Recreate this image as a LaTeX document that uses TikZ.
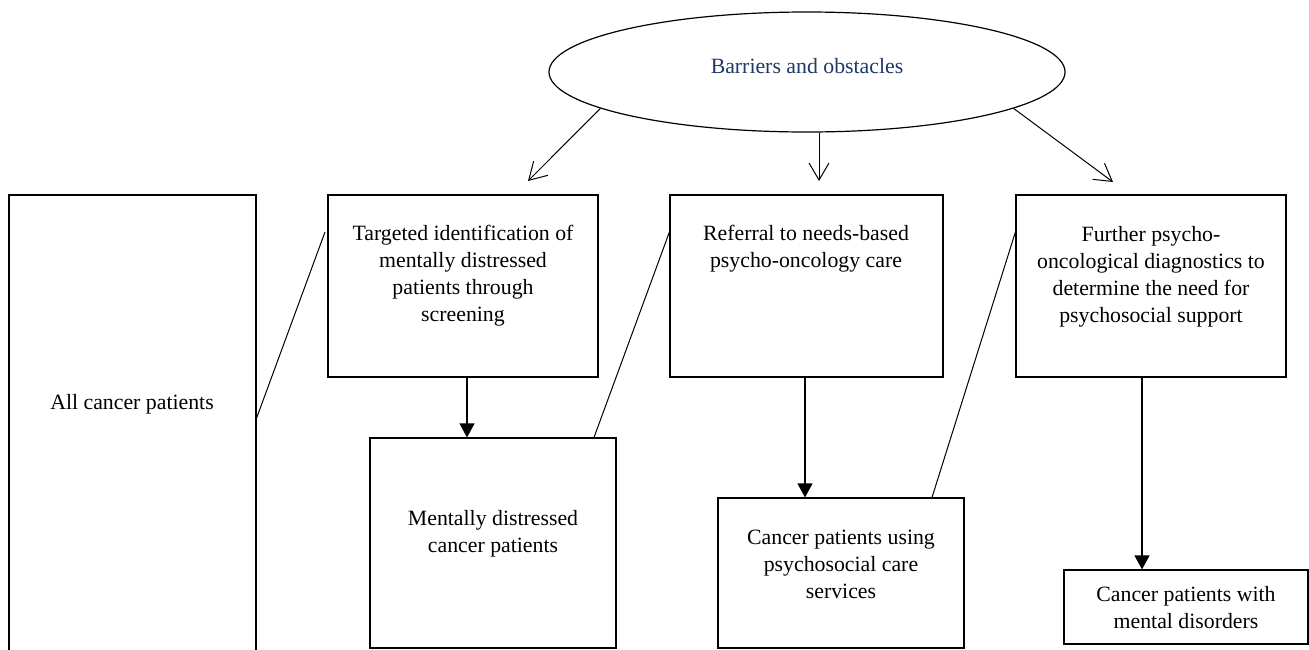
\documentclass[tikz,border=0pt]{standalone}
\usepackage{fontspec}
\setmainfont{Liberation Serif}
\usetikzlibrary{shapes.geometric,arrows.meta,positioning,calc,fit}
\usepackage{xcolor}
\definecolor{barrierblue}{RGB}{31,56,100}

\begin{document}
\begin{tikzpicture}[
    x=0.5pt, y=0.5pt,
    font=\fontsize{10.9pt}{13.5pt}\selectfont,
    every node/.style={inner sep=0pt},
    box/.style={draw, line width=0.6pt, fit={#1}},
    boxtext/.style={align=center},
    flow/.style={draw, line width=0.6pt, -{Triangle[length=7pt,width=7.5pt]}},
    barrierarrow/.style={draw, line width=0.5pt, -{Straight Barb[length=8.5pt,width=10pt]}},
    link/.style={draw, line width=0.5pt}
]
\clip (0,0) rectangle (1309,-649);

\node[shape=ellipse, draw, line width=0.6pt, minimum width=258pt, minimum height=60pt,
      text depth=6pt, text=barrierblue] (barrier) at (807,-72) {Barriers and obstacles};

\node[box={(9,-195) (256,-700)}] (all) {};
\node[boxtext] (all-txt) at (132,-404) {All cancer patients};

\node[box={(328,-195) (598,-377)}] (screen) {};
\node[boxtext] (screen-txt) at (463,-276) {Targeted identification of\\mentally distressed\\patients through\\screening};

\node[box={(670,-195) (943,-377)}] (referral) {};
\node[boxtext] (referral-txt) at (806,-249) {Referral to needs-based\\psycho-oncology care};

\node[box={(1016,-195) (1286,-377)}] (further) {};
\node[boxtext] (further-txt) at (1151,-277) {Further psycho-\\oncological diagnostics to\\determine the need for\\psychosocial support};

\node[box={(370,-438) (616,-648)}] (distressed) {};
\node[boxtext] (distressed-txt) at (493,-534) {Mentally distressed\\cancer patients};

\node[box={(718,-498) (964,-648)}] (using) {};
\node[boxtext] (using-txt) at (841,-564) {Cancer patients using\\psychosocial care\\services};

\node[box={(1064,-570) (1308,-644)}] (disorders) {};
\node[boxtext] (disorders-txt) at (1186,-608) {Cancer patients with\\mental disorders};

\coordinate (tipL) at (528,-181);
\coordinate (tipM) at (819,-181);
\coordinate (tipR) at (1113,-182);
\draw[barrierarrow] (barrier.190) -- (tipL);
\draw[barrierarrow] (barrier.south -| tipM) -- (tipM);
\draw[barrierarrow] (barrier.350) -- (tipR);

\draw[flow] (screen.south -| 467,0) -- (distressed.north -| 467,0);
\draw[flow] (referral.south -| 805,0) -- (using.north -| 805,0);
\draw[flow] (further.south -| 1142,0) -- (disorders.north -| 1142,0);

\draw[link] (all.east |- 0,-418) -- (325,-232);
\draw[link] (distressed.north -| 594,0) -- (referral.west |- 0,-232);
\draw[link] (using.north -| 932,0) -- (further.west |- 0,-232);
\end{tikzpicture}
\end{document}
